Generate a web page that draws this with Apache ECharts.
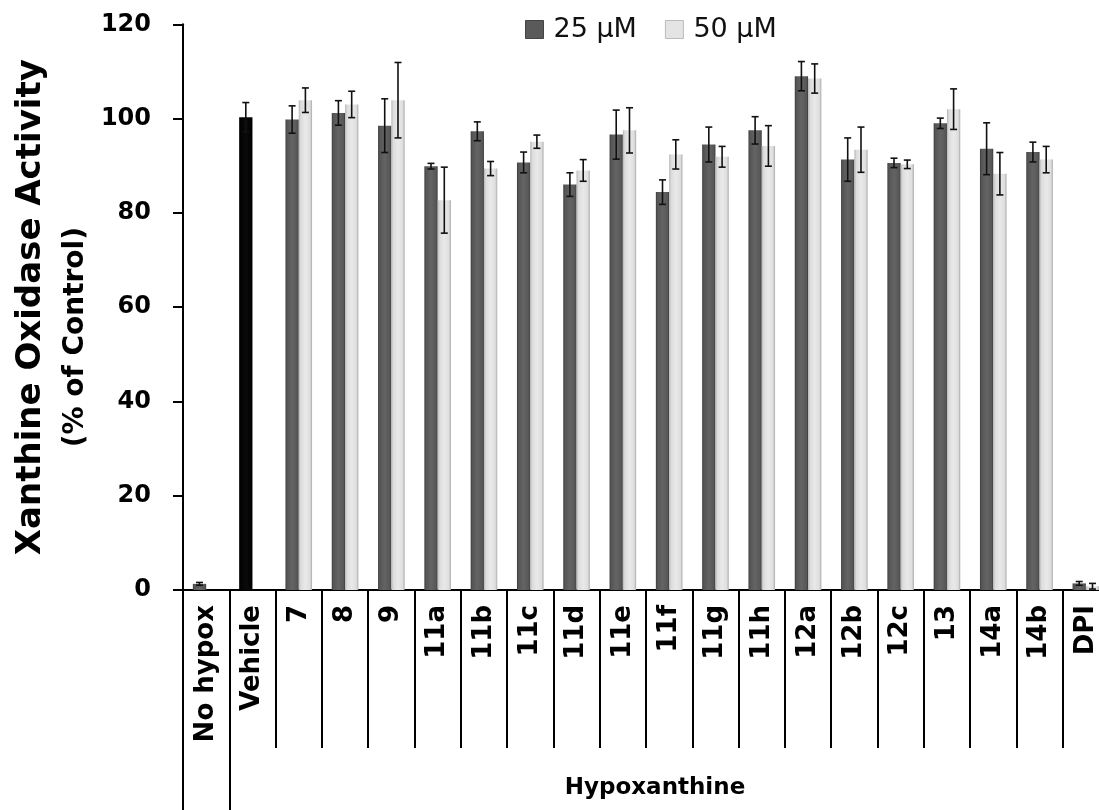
<!DOCTYPE html>
<html><head><meta charset="utf-8">
<script src="https://cdn.jsdelivr.net/npm/echarts@6/dist/echarts.min.js"></script>
<style>html,body{margin:0;padding:0;background:#fff}#c{width:1099px;height:810px}</style>
</head><body><div id="c"></div>
<script>
const categories = ['No hypox','Vehicle','7','8','9','11a','11b','11c','11d','11e','11f','11g','11h','12a','12b','12c','13','14a','14b','DPI'];
const values25 = [1.3, 100.3, 99.8, 101.2, 98.5, 89.9, 97.3, 90.7, 86.0, 96.6, 84.4, 94.5, 97.5, 109.0, 91.3, 90.6, 99.0, 93.6, 92.9, 1.4];
const errors25 = [0.3, 3.1, 2.9, 2.6, 5.7, 0.6, 2.0, 2.2, 2.5, 5.2, 2.6, 3.7, 2.9, 3.1, 4.6, 1.0, 1.1, 5.5, 2.1, 0.4];
const values50 = [null, null, 103.9, 103.0, 103.9, 82.7, 89.4, 95.1, 89.0, 97.5, 92.4, 91.9, 94.2, 108.5, 93.4, 90.3, 102.0, 88.3, 91.3, 0.8];
const errors50 = [null, null, 2.6, 2.8, 8.0, 7.0, 1.5, 1.4, 2.3, 4.8, 3.1, 2.2, 4.3, 3.1, 4.8, 0.9, 4.3, 4.5, 2.8, 0.6];
const seriesNames = ['25 µM', '50 µM'];
const yMin = 0, yMax = 120, yInterval = 20;
const groupLabel = 'Hypoxanthine';
const blackIndex = 1; // Vehicle drawn in black

const FONT = 'DejaVu Sans';
const BAR_FRAC = 0.287;
function grad(stops) {
  return new echarts.graphic.LinearGradient(0, 0, 1, 0, stops.map(s => ({offset: s[0], color: s[1]})));
}
const darkFill = grad([[0,'#3c3c3c'],[0.12,'#555555'],[0.5,'#646464'],[0.88,'#575757'],[1,'#3a3a3a']]);
const lightFill = grad([[0,'#b5b5b5'],[0.15,'#dcdcdc'],[0.5,'#e9e9e9'],[0.85,'#dedede'],[1,'#a9a9a9']]);
const blackFill = grad([[0,'#000000'],[0.5,'#0a0a0a'],[1,'#000000']]);

function errRender(side) {
  return function (params, api) {
    const i = api.value(0), v = api.value(1), e = api.value(2);
    const band = api.size([1, 0])[0];
    const dx = side * band * BAR_FRAC / 2;
    const top = api.coord([i, v + e]);
    const bot = api.coord([i, v - e]);
    const x = top[0] + dx;
    const cap = 3.5;
    const style = {stroke: '#111', lineWidth: 1.6};
    return {type: 'group', children: [
      {type: 'line', shape: {x1: x, y1: top[1], x2: x, y2: bot[1]}, style},
      {type: 'line', shape: {x1: x - cap, y1: top[1], x2: x + cap, y2: top[1]}, style},
      {type: 'line', shape: {x1: x - cap, y1: bot[1], x2: x + cap, y2: bot[1]}, style}
    ]};
  };
}
function errData(vals, errs) {
  const out = [];
  vals.forEach((v, i) => { if (v != null && errs[i] != null) out.push([i, v, errs[i]]); });
  return out;
}

const chart = echarts.init(document.getElementById('c'));
chart.setOption({
  animation: false,
  backgroundColor: '#fff',
  grid: {left: 183, top: 24.3, bottom: 220, width: 926, containLabel: false, outerBoundsMode: 'none'},
  legend: {
    left: 520, top: 11,
    itemWidth: 18, itemHeight: 18, itemGap: 28,
    icon: 'rect',
    textStyle: {fontFamily: FONT, fontSize: 27, color: '#111', padding: [0, 0, 0, 5]},
    data: [
      {name: seriesNames[0], itemStyle: {color: '#5a5a5a', borderColor: '#444', borderWidth: 1}},
      {name: seriesNames[1], itemStyle: {color: '#e4e4e4', borderColor: '#bbb', borderWidth: 1}}
    ]
  },
  xAxis: [{
    type: 'category',
    data: categories,
    axisLine: {show: true, lineStyle: {color: '#000', width: 2}},
    axisTick: {show: true, interval: 0, length: 158, lineStyle: {color: '#000', width: 2}},
    axisLabel: {interval: 0, rotate: 90, margin: 15, fontFamily: FONT, fontWeight: 'bold', fontSize: 26, color: '#000'},
    splitLine: {show: false}
  }, {
    type: 'category',
    data: categories,
    position: 'bottom',
    axisLine: {show: false},
    axisTick: {show: true, interval: (idx) => idx <= 1, length: 222, lineStyle: {color: '#000', width: 2}},
    axisLabel: {show: false},
    name: groupLabel,
    nameLocation: 'middle',
    nameGap: 187,
    nameTextStyle: {fontFamily: FONT, fontWeight: 'bold', fontSize: 23, color: '#000', padding: [0, 0, 0, 18]}
  }],
  yAxis: {
    type: 'value', min: yMin, max: yMax, interval: yInterval,
    axisLine: {show: true, lineStyle: {color: '#000', width: 2}},
    axisTick: {show: true, length: 10, lineStyle: {color: '#000', width: 2}},
    axisLabel: {margin: 32, fontFamily: FONT, fontWeight: 'bold', fontSize: 24, color: '#000'},
    splitLine: {show: false},
    name: '{a|Xanthine Oxidase Activity}\n{b|(% of Control)}',
    nameLocation: 'middle',
    nameRotate: 90,
    nameGap: 86,
    nameTextStyle: {
      rich: {
        a: {fontFamily: FONT, fontWeight: 'bold', fontSize: 34, lineHeight: 56, color: '#000'},
        b: {fontFamily: FONT, fontWeight: 'bold', fontSize: 28, lineHeight: 34, color: '#000', padding: [0, 60, 0, 0]}
      }
    }
  },
  series: [{
    name: seriesNames[0], type: 'bar', barWidth: (BAR_FRAC * 100) + '%', barGap: '0%',
    itemStyle: {color: darkFill},
    data: values25.map((v, i) => i === blackIndex ? {value: v, itemStyle: {color: blackFill}} : v)
  }, {
    name: seriesNames[1], type: 'bar', barWidth: (BAR_FRAC * 100) + '%', barGap: '0%',
    itemStyle: {color: lightFill},
    data: values50
  }, {
    type: 'custom', name: 'err25', renderItem: errRender(-1), z: 5,
    encode: {x: 0, y: 1}, data: errData(values25, errors25), silent: true
  }, {
    type: 'custom', name: 'err50', renderItem: errRender(1), z: 5,
    encode: {x: 0, y: 1}, data: errData(values50, errors50), silent: true
  }]
});
</script>
</body></html>
